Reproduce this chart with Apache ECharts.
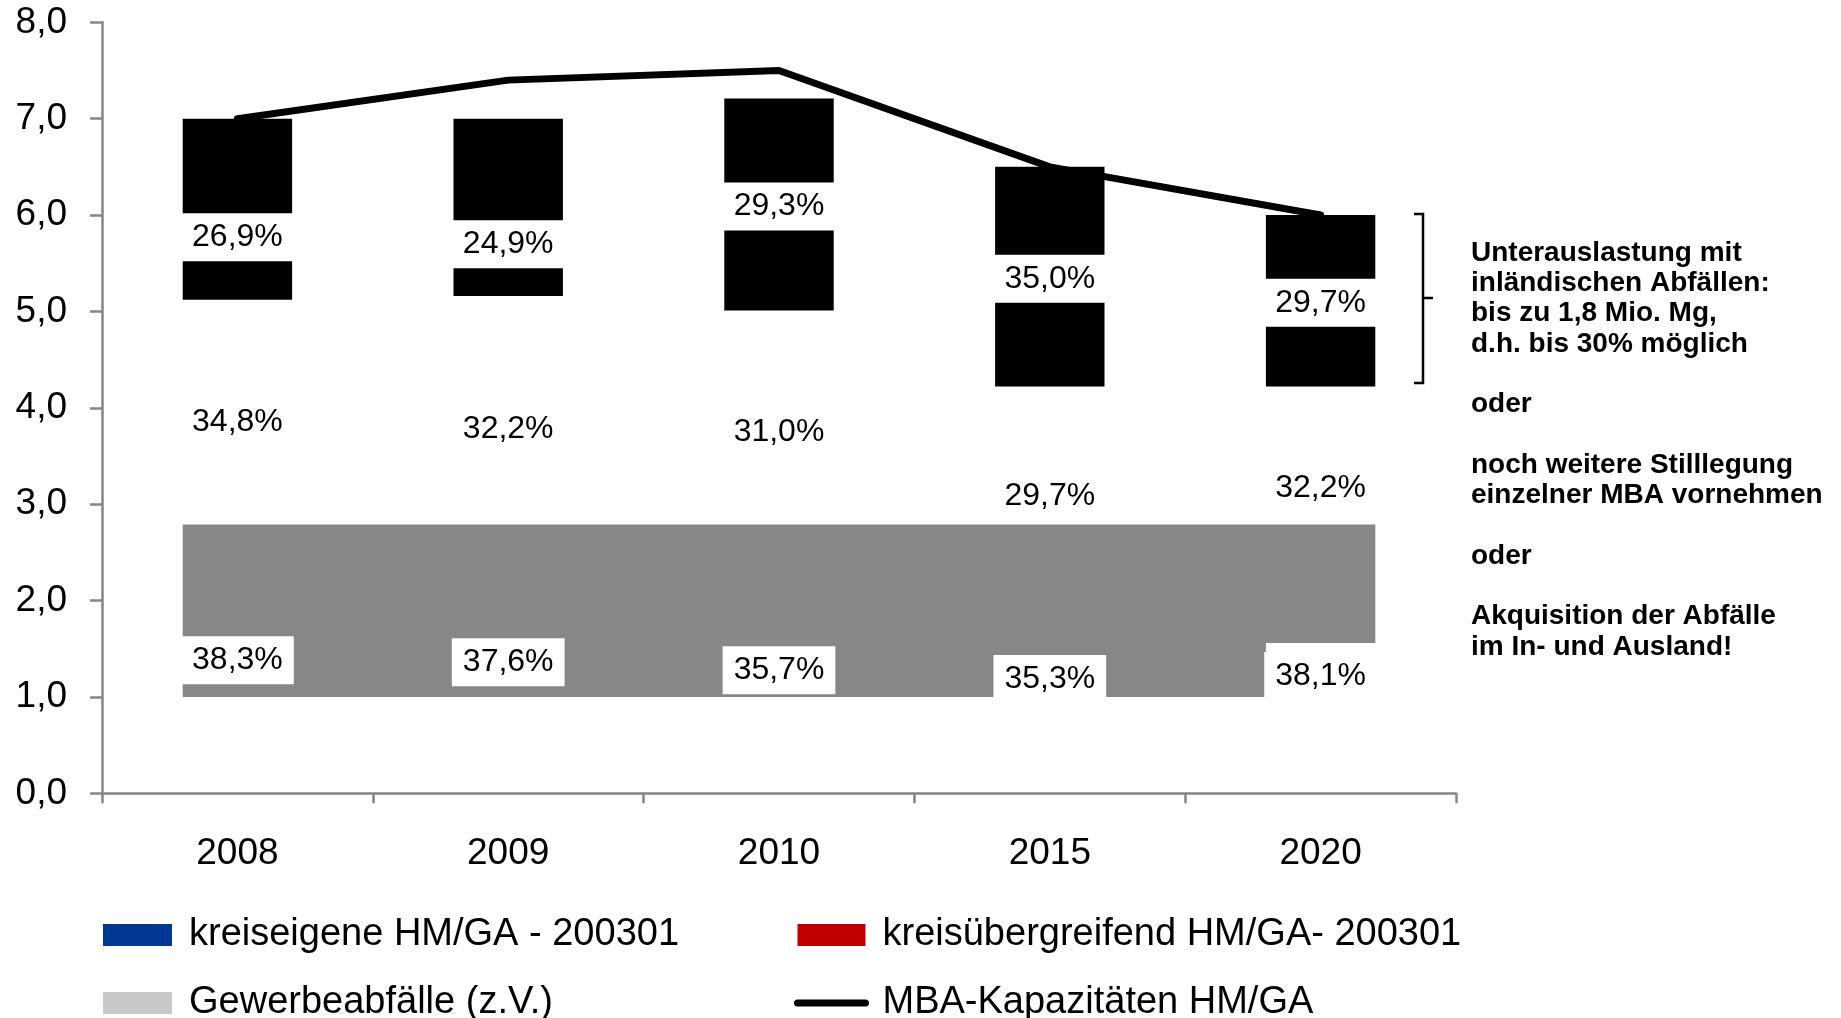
<!DOCTYPE html>
<html>
<head>
<meta charset="utf-8">
<script src="https://cdn.jsdelivr.net/npm/echarts@6/dist/echarts.min.js"></script>
<style>
  html, body { margin: 0; padding: 0; background: #fff; }
  #chart { width: 1841px; height: 1018px; }
</style>
</head>
<body>
<div id="chart"></div>
<script>
// ---- data ----
const years = ['2008', '2009', '2010', '2015', '2020'];
const ownWaste = [2.68, 2.78, 2.68, 2.29, 2.29];          // kreiseigene HM/GA - 200301
const crossWaste = [2.44, 2.38, 2.33, 1.93, 1.93];        // kreisübergreifend HM/GA- 200301
const commercialWaste = [1.88, 1.84, 2.20, 2.28, 1.78];   // Gewerbeabfälle (z.V.)
const capacity = [7.0, 7.4, 7.5, 6.5, 6.0];               // MBA-Kapazitäten HM/GA
const ownPct = ['38,3%', '37,6%', '35,7%', '35,3%', '38,1%'];
const crossPct = ['34,8%', '32,2%', '31,0%', '29,7%', '32,2%'];
const commercialPct = ['26,9%', '24,9%', '29,3%', '35,0%', '29,7%'];
const greyBand = [[0, 4, 1.0, 2.79, 1.56]]; // first cat, last cat, low, high, low under last bar
const yMin = 0, yMax = 8, yStep = 1;
const names = {
  own: 'kreiseigene HM/GA - 200301',
  cross: 'kreisübergreifend HM/GA- 200301',
  commercial: 'Gewerbeabfälle (z.V.)',
  cap: 'MBA-Kapazitäten HM/GA'
};
const noteLines = [
  'Unterauslastung mit',
  'inländischen Abfällen:',
  'bis zu 1,8 Mio. Mg,',
  'd.h. bis 30% möglich',
  '',
  'oder',
  '',
  'noch weitere Stilllegung',
  'einzelner MBA vornehmen',
  '',
  'oder',
  '',
  'Akquisition der Abfälle',
  'im In- und Ausland!'
];

// ---- chart ----
const FONT = "'Liberation Sans', Arial, sans-serif";
const BAR_RATIO = 0.404;
const chart = echarts.init(document.getElementById('chart'), null, { renderer: 'canvas' });

const boxLabel = {
  show: true, position: 'inside', color: '#000', fontSize: 32, fontFamily: FONT,
  backgroundColor: '#fff', padding: [8, 11]
};
const plainLabel = {
  show: true, position: 'inside', color: '#000', fontSize: 32, fontFamily: FONT
};

const legendText = { fontSize: 38, fontFamily: FONT, color: '#000', lineHeight: 36, padding: [0, 0, 0, 12] };

const option = {
  animation: false,
  backgroundColor: '#fff',
  grid: { left: 102, right: 385, top: 22.3, bottom: 224.7, containLabel: false },
  xAxis: {
    type: 'category',
    data: years,
    axisLine: { lineStyle: { color: '#868686', width: 2.5 } },
    axisTick: { show: true, length: 10, lineStyle: { color: '#868686', width: 2.5 } },
    axisLabel: { color: '#000', fontSize: 37, fontFamily: FONT, margin: 42 }
  },
  yAxis: {
    type: 'value', min: yMin, max: yMax, interval: yStep,
    axisLine: { show: true, lineStyle: { color: '#868686', width: 2.5 } },
    axisTick: { show: true, length: 12, lineStyle: { color: '#868686', width: 2.5 } },
    splitLine: { show: false },
    axisLabel: {
      color: '#000', fontSize: 37, fontFamily: FONT, margin: 35,
      formatter: (v) => v.toFixed(1).replace('.', ',')
    }
  },
  legend: [
    {
      orient: 'vertical', left: 103, top: 916, height: 200, width: 680, padding: 0,
      itemWidth: 69, itemHeight: 22, itemGap: 30,
      textStyle: legendText, selectedMode: false,
      data: [
        { name: names.own, icon: 'rect', itemStyle: { color: '#003893', borderWidth: 0 } },
        { name: names.commercial, icon: 'rect', itemStyle: { color: '#C8C8C8', borderWidth: 0 } }
      ]
    },
    {
      orient: 'vertical', left: 794, top: 916, height: 200, width: 760, padding: 0,
      itemWidth: 68, itemHeight: 22, itemGap: 30,
      textStyle: legendText, selectedMode: false,
      data: [
        { name: names.cross, icon: 'rect', itemStyle: { color: '#C00000', borderWidth: 0 } },
        {
          name: names.cap,
          itemStyle: { color: 'rgba(0,0,0,0)', borderColor: 'rgba(0,0,0,0)', borderWidth: 0 },
          lineStyle: { color: '#000', width: 7, cap: 'round' }
        }
      ]
    }
  ],
  series: [
    {
      type: 'custom',
      name: 'band',
      z: 1,
      silent: true,
      data: greyBand,
      encode: { x: [0, 1], y: [2, 3, 4] },
      renderItem: function (params, api) {
        const i0 = api.value(0), i1 = api.value(1);
        const lo = api.value(2), hi = api.value(3), lastLo = api.value(4);
        const half = api.size([1, 0])[0] * BAR_RATIO / 2;
        const xl = api.coord([i0, hi])[0] - half;
        const xr = api.coord([i1, hi])[0] + half;
        const xLastL = xr - 2 * half;
        const yTop = api.coord([i0, hi])[1];
        const yBot = api.coord([i0, lo])[1];
        const yLast = api.coord([i1, lastLo])[1];
        return {
          type: 'polygon',
          shape: { points: [[xl, yTop], [xr, yTop], [xr, yLast], [xLastL, yLast], [xLastL, yBot], [xl, yBot]] },
          style: { fill: '#878787' }
        };
      }
    },
    {
      type: 'bar', name: names.own, stack: 'total', barWidth: (BAR_RATIO * 100) + '%', z: 2,
      itemStyle: { color: 'rgba(0,0,0,0)' },
      label: Object.assign({}, boxLabel, { formatter: (p) => ownPct[p.dataIndex] }),
      data: ownWaste.map((v, i) => ({ value: v, label: { offset: [0, [-4, 3, 6, -4, -7][i]] } }))
    },
    {
      type: 'bar', name: names.cross, stack: 'total', barWidth: (BAR_RATIO * 100) + '%', z: 2,
      itemStyle: { color: 'rgba(0,0,0,0)' },
      label: Object.assign({}, plainLabel, { formatter: (p) => crossPct[p.dataIndex] }),
      data: crossWaste.map((v, i) => ({ value: v, label: { offset: [0, [5, 18, 9, 17, 9][i]] } }))
    },
    {
      type: 'bar', name: names.commercial, stack: 'total', barWidth: (BAR_RATIO * 100) + '%', z: 2,
      itemStyle: { color: '#000' },
      label: Object.assign({}, boxLabel, { formatter: (p) => commercialPct[p.dataIndex] }),
      data: commercialWaste.map((v, i) => ({ value: v, label: { offset: [0, [28, 37, 2, 2, 2][i]] } }))
    },
    {
      type: 'line', name: names.cap, z: 3,
      data: capacity,
      symbol: 'none', showSymbol: false,
      lineStyle: { color: '#000', width: 7, cap: 'round', join: 'round' },
      itemStyle: { color: '#000' }
    }
  ],
  graphic: [
    {
      type: 'polyline',
      shape: { points: [[1414, 214], [1423, 214], [1423, 383], [1414, 383]] },
      style: { stroke: '#000', lineWidth: 2.5, fill: null }
    },
    {
      type: 'line',
      shape: { x1: 1423, y1: 298, x2: 1433, y2: 298 },
      style: { stroke: '#000', lineWidth: 2.5 }
    },
    {
      type: 'text', left: 1471, top: 238,
      style: {
        text: noteLines.join('\n'),
        font: "bold 28px 'Liberation Sans', Arial, sans-serif",
        fill: '#000', lineHeight: 30.3
      }
    }
  ]
};
chart.setOption(option);
</script>
</body>
</html>
